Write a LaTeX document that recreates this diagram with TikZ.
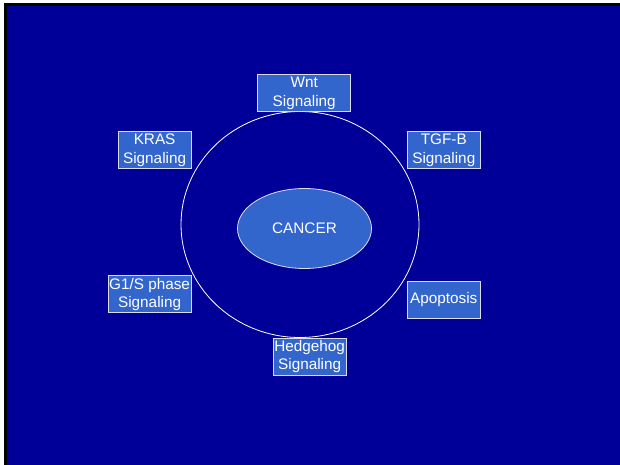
\documentclass[tikz,border=0pt]{standalone}
\usepackage{fontspec}
\setmainfont{Liberation Sans}
\usetikzlibrary{shapes.geometric}
\definecolor{bgblue}{RGB}{0,0,153}
\definecolor{boxblue}{RGB}{51,102,204}
\definecolor{edgec}{RGB}{220,220,240}
\begin{document}
\begin{tikzpicture}[x=1pt,y=-1pt,
  sigbox/.style={rectangle, draw=edgec, line width=0.8pt, fill=boxblue, text=white,
    inner sep=0pt, align=center, font=\fontsize{15.3}{18.5}\selectfont},
  coreell/.style={ellipse, draw=edgec, line width=0.8pt, fill=boxblue, text=white,
    inner sep=0pt, minimum width=134pt, minimum height=80pt, font=\fontsize{15.3}{18.5}\selectfont},
  ring/.style={draw=white, line width=0.8pt}]
\useasboundingbox (0,0) rectangle (620,465);
\fill[white] (0,0) rectangle (620,465);
\fill[black] (4,3) rectangle (620,465);
\fill[bgblue] (7,6) rectangle (620,465);
\draw[ring] (300,224.5) ellipse [x radius=119, y radius=113];
\node[coreell] (cancer) at (304.5,228.5) {CANCER};
\node[sigbox, minimum width=93pt, minimum height=37pt] (wnt) at (304.2,93.3) {Wnt\\Signaling};
\node[sigbox, minimum width=73pt, minimum height=37pt] (kras) at (154.6,150.2) {KRAS\\Signaling};
\node[sigbox, minimum width=73pt, minimum height=37pt] (tgf) at (443.8,150.2) {TGF-B\\Signaling};
\node[sigbox, minimum width=83pt, minimum height=37pt] (g1s) at (149.6,294.3) {G1/S phase\\Signaling};
\node[sigbox, minimum width=73pt, minimum height=37pt] (apop) at (443.8,300) {Apoptosis};
\node[sigbox, minimum width=73pt, minimum height=37pt] (hedge) at (309.7,356.7) {Hedgehog\\Signaling};
\end{tikzpicture}
\end{document}
